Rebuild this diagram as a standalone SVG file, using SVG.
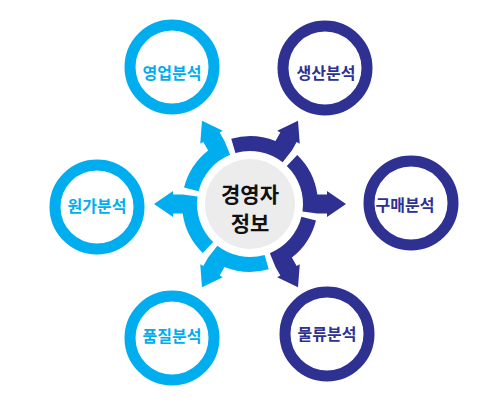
<svg xmlns="http://www.w3.org/2000/svg" xmlns:xlink="http://www.w3.org/1999/xlink" width="500" height="410" viewBox="0 0 500 410">
<style>
.ring{fill:none;stroke-width:11}
.cy{stroke:#00aeef}
.nv{stroke:#2e3192}
.lbl{font-family:"Noto Sans CJK KR","Noto Sans",sans-serif;font-weight:bold;font-size:16px;text-anchor:middle;dominant-baseline:central}
.tcy{fill:#00aeef}
.tnv{fill:#2e3192}
.ctr{font-family:"Noto Sans CJK KR","Noto Sans",sans-serif;font-weight:bold;font-size:21px;text-anchor:middle;fill:#111}
</style>
<defs>
<path id="arr" d="M36.82,-38.12 A53,53 0 0,1 52.48,7.38 L67.34,9.46 L77,9.46 L77,13 L96,0 L77,-13 L77,-9.46 L67.34,-9.46 A68,68 0 0,0 47.24,-48.91 Z"/>
</defs>
<rect width="500" height="410" fill="#fff"/>
<g id="connectors">
<use xlink:href="#arr" href="#arr" fill="#2e3192" transform="translate(250 204) rotate(-60)"/>
<use xlink:href="#arr" href="#arr" fill="#2e3192" transform="translate(250 204) rotate(0)"/>
<use xlink:href="#arr" href="#arr" fill="#2e3192" transform="translate(250 204) rotate(60)"/>
<use xlink:href="#arr" href="#arr" fill="#00aeef" transform="translate(250 204) rotate(120)"/>
<use xlink:href="#arr" href="#arr" fill="#00aeef" transform="translate(250 204) rotate(180)"/>
<use xlink:href="#arr" href="#arr" fill="#00aeef" transform="translate(250 204) rotate(240)"/>
</g>
<g id="center">
<circle cx="250" cy="204" r="45" fill="#ececec"/>
<text class="ctr" x="250" y="202">경영자</text>
<text class="ctr" x="250" y="231">정보</text>
</g>
<g id="n-sales">
<circle class="ring cy" cx="172" cy="67" r="42"/>
<text class="lbl tcy" x="172" y="72">영업분석</text>
</g>
<g id="n-production">
<circle class="ring nv" cx="325" cy="68" r="42"/>
<text class="lbl tnv" x="326" y="72">생산분석</text>
</g>
<g id="n-cost">
<circle class="ring cy" cx="97" cy="207" r="42"/>
<text class="lbl tcy" x="97" y="205">원가분석</text>
</g>
<g id="n-purchase">
<circle class="ring nv" cx="411" cy="203" r="42"/>
<text class="lbl tnv" x="405" y="204">구매분석</text>
</g>
<g id="n-quality">
<circle class="ring cy" cx="172" cy="338" r="42"/>
<text class="lbl tcy" x="172" y="335">품질분석</text>
</g>
<g id="n-logistics">
<circle class="ring nv" cx="327" cy="334" r="42"/>
<text class="lbl tnv" x="327" y="333">물류분석</text>
</g>
</svg>
